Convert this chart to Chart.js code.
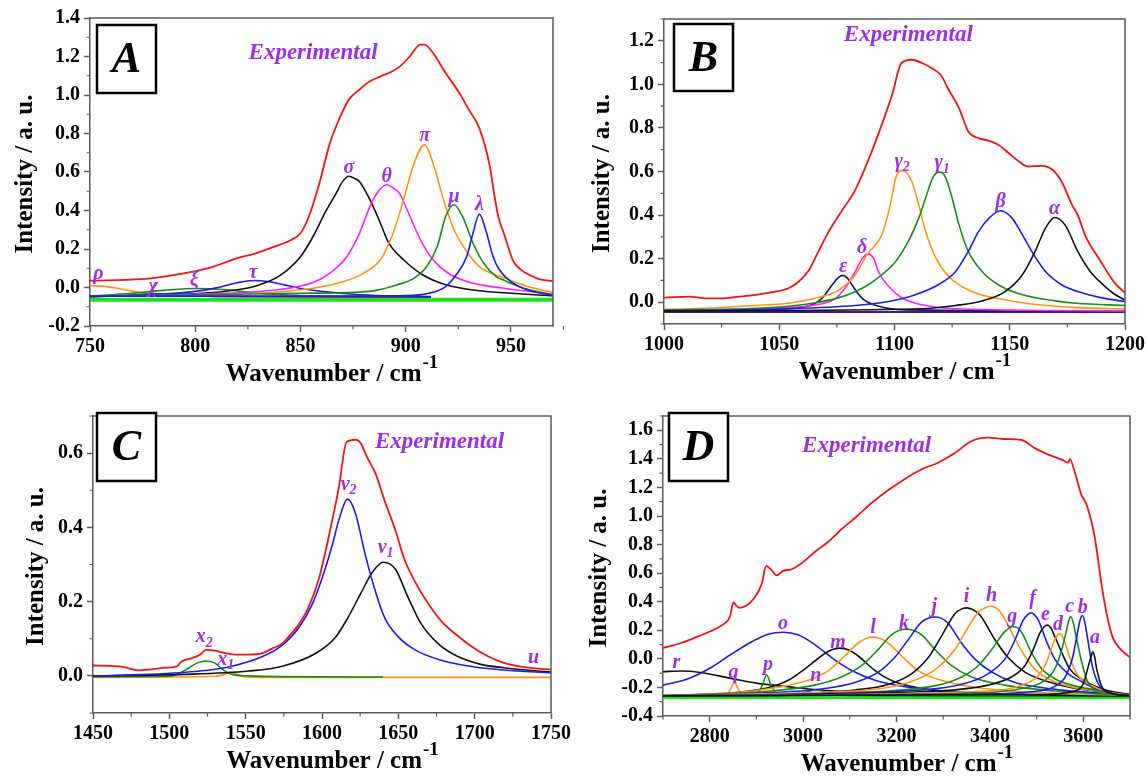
<!DOCTYPE html>
<html>
<head>
<meta charset="utf-8">
<title>Band deconvolution of four spectral regions</title>
<script src="https://cdn.jsdelivr.net/npm/chart.js@4.4.1/dist/chart.umd.min.js"></script>
<style>
  html, body { margin: 0; padding: 0; background: #fff; }
  body { width: 1148px; height: 777px; position: relative; overflow: hidden; }
  canvas { position: absolute; }
</style>
</head>
<body>
<canvas id="pA" width="574" height="400" style="left:0;top:0"></canvas>
<canvas id="pB" width="574" height="400" style="left:574px;top:0"></canvas>
<canvas id="pC" width="574" height="377" style="left:0;top:400px"></canvas>
<canvas id="pD" width="574" height="377" style="left:574px;top:400px"></canvas>
<script>
// ---------- Panel A : 750–970 cm-1 ----------
const aXTicks = [750, 800, 850, 900, 950];
const aYTicks = [-0.2, 0.0, 0.2, 0.4, 0.6, 0.8, 1.0, 1.2, 1.4];
const aExpX = [750, 774, 785, 799, 808, 820, 828, 837, 845, 850, 854, 859, 864, 869, 873, 878, 883, 888, 892, 897, 902, 907, 909, 913, 919, 926, 930, 935, 940, 942, 944, 947, 951, 955, 958, 963, 970];
const aExpY = [0.036, 0.043, 0.057, 0.083, 0.106, 0.153, 0.175, 0.21, 0.244, 0.282, 0.369, 0.542, 0.75, 0.889, 0.976, 1.028, 1.071, 1.097, 1.114, 1.146, 1.201, 1.262, 1.262, 1.218, 1.114, 1.002, 0.924, 0.828, 0.629, 0.49, 0.369, 0.27, 0.14, 0.09, 0.07, 0.045, 0.033];
const aSigmaX = [750, 780, 800, 820, 830, 840, 850, 856, 862, 867, 870, 873, 876, 878, 883, 888, 892, 899, 908, 919, 935, 950, 970];
const aSigmaY = [-0.047, -0.04, -0.033, -0.012, 0.012, 0.06, 0.16, 0.265, 0.395, 0.49, 0.55, 0.578, 0.565, 0.551, 0.456, 0.334, 0.23, 0.144, 0.066, 0.014, -0.017, -0.03, -0.043];
const aThetaX = [750, 800, 840, 856, 865, 872, 878, 883, 887, 891, 895, 897, 902, 907, 913, 919, 929, 946, 970];
const aThetaY = [-0.045, -0.035, -0.01, 0.026, 0.083, 0.16, 0.28, 0.42, 0.5, 0.534, 0.51, 0.49, 0.37, 0.248, 0.144, 0.083, 0.031, -0.003, -0.035];
const aPiX = [750, 800, 820, 856, 872, 880, 888, 894, 899, 904, 909, 913, 918, 923, 929, 935, 947, 958, 970];
const aPiY = [-0.045, -0.042, -0.035, -0.004, 0.036, 0.075, 0.144, 0.282, 0.456, 0.646, 0.742, 0.646, 0.456, 0.3, 0.187, 0.109, 0.049, 0.005, -0.026];
const aMuX = [750, 850, 883, 896, 904, 910, 915, 919, 923, 927, 932, 937, 943, 947, 955, 962, 970];
const aMuY = [-0.045, -0.03, -0.02, 0.014, 0.049, 0.109, 0.213, 0.369, 0.43, 0.369, 0.23, 0.127, 0.057, 0.036, 0.0, -0.02, -0.04];
const aLambdaX = [750, 850, 900, 911, 919, 924, 929, 932, 935, 938, 941.5, 944.5, 950, 955, 960, 970];
const aLambdaY = [-0.045, -0.045, -0.042, -0.03, 0.005, 0.066, 0.161, 0.283, 0.381, 0.3, 0.161, 0.092, 0.03, 0.0, -0.02, -0.04];
const aTauX = [750, 770, 790, 800, 810, 820, 828, 835, 842, 850, 860, 875, 890, 912];
const aTauY = [-0.045, -0.04, -0.03, -0.02, -0.002, 0.025, 0.036, 0.03, 0.015, -0.005, -0.02, -0.035, -0.043, -0.047];
const aXiX = [750, 770, 785, 800, 815, 830, 850, 880, 912];
const aXiY = [-0.045, -0.03, -0.015, -0.005, -0.012, -0.03, -0.042, -0.046, -0.048];
const aChiX = [750, 770, 781, 792, 810, 860, 912];
const aChiY = [-0.048, -0.04, -0.033, -0.04, -0.046, -0.048, -0.05];
const aRhoX = [750, 757, 765, 775, 790, 820, 860, 912];
const aRhoY = [0.009, 0.006, -0.008, -0.028, -0.04, -0.047, -0.05, -0.052];
const aBaseX = [750, 970];
const aBaseY = [-0.063, -0.063];

// ---------- Panel B : 1000–1200 cm-1 ----------
const bXTicks = [1000, 1050, 1100, 1150, 1200];
const bYTicks = [0.0, 0.2, 0.4, 0.6, 0.8, 1.0, 1.2];
const bExpX = [1000, 1011, 1018, 1025, 1032, 1040, 1047, 1054, 1058.5, 1063, 1067, 1071.5, 1077, 1083, 1089, 1095, 1099, 1103, 1107.5, 1112, 1116, 1120, 1123.5, 1128, 1132, 1136.5, 1141, 1145, 1149.5, 1154, 1158, 1164, 1168.5, 1172.5, 1177, 1179.5, 1183, 1189, 1195.5, 1200];
const bExpY = [0.021, 0.026, 0.018, 0.018, 0.025, 0.034, 0.046, 0.064, 0.095, 0.149, 0.233, 0.325, 0.417, 0.516, 0.662, 0.83, 0.953, 1.098, 1.113, 1.098, 1.075, 1.044, 0.975, 0.891, 0.784, 0.753, 0.741, 0.723, 0.685, 0.646, 0.623, 0.626, 0.608, 0.554, 0.447, 0.40, 0.30, 0.195, 0.089, 0.043];
const bGamma2X = [1000, 1011, 1040, 1054, 1068.5, 1076, 1083, 1088, 1094.5, 1097.5, 1099, 1100.5, 1103.5, 1107.5, 1110.5, 1113.5, 1118, 1123.5, 1133.5, 1148, 1162.5, 1179, 1200];
const bGamma2Y = [-0.033, -0.03, -0.015, -0.005, 0.026, 0.057, 0.126, 0.217, 0.309, 0.417, 0.49, 0.57, 0.605, 0.554, 0.447, 0.325, 0.202, 0.118, 0.049, 0.011, -0.012, -0.025, -0.03];
const bGamma1X = [1000, 1040, 1061.5, 1076, 1086, 1094.5, 1100.5, 1106, 1110.5, 1113.5, 1116.5, 1119.5, 1122, 1125, 1128, 1132, 1138, 1145, 1155.5, 1170, 1179, 1200];
const bGamma1Y = [-0.035, -0.028, -0.009, 0.021, 0.064, 0.126, 0.187, 0.279, 0.386, 0.478, 0.57, 0.597, 0.577, 0.478, 0.355, 0.233, 0.141, 0.08, 0.034, 0.006, -0.005, -0.015];
const bBetaX = [1000, 1054, 1083, 1097.5, 1109, 1119, 1126.5, 1132, 1136.5, 1141, 1146, 1151, 1155.5, 1160, 1165.5, 1172.5, 1179.5, 1190, 1200];
const bBetaY = [-0.04, -0.03, -0.015, 0.003, 0.034, 0.08, 0.141, 0.233, 0.325, 0.386, 0.42, 0.386, 0.309, 0.225, 0.141, 0.08, 0.049, 0.02, 0.003];
const bAlphaX = [1000, 1112, 1126.5, 1138, 1148, 1155.5, 1161, 1165.5, 1169.5, 1174, 1179.5, 1185, 1190, 1195, 1200];
const bAlphaY = [-0.04, -0.03, -0.015, 0.006, 0.049, 0.126, 0.233, 0.34, 0.389, 0.355, 0.233, 0.14, 0.085, 0.04, 0.01];
const bDeltaX = [1000, 1047, 1066, 1074.5, 1078.5, 1083, 1086, 1088.5, 1091, 1093, 1097.5, 1103.5, 1112, 1126.5, 1200];
const bDeltaY = [-0.038, -0.028, -0.012, 0.018, 0.064, 0.141, 0.2, 0.222, 0.2, 0.141, 0.072, 0.018, -0.012, -0.03, -0.04];
const bEpsX = [1000, 1040, 1061.5, 1068.5, 1073, 1075.5, 1077.5, 1079.5, 1081.5, 1086, 1092, 1105, 1200];
const bEpsY = [-0.04, -0.035, -0.02, 0.018, 0.08, 0.112, 0.123, 0.112, 0.08, 0.018, -0.015, -0.035, -0.042];
const bBaseX = [1000, 1200];
const bBaseY = [-0.045, -0.045];

// ---------- Panel C : 1450–1750 cm-1 ----------
const cXTicks = [1450, 1500, 1550, 1600, 1650, 1700, 1750];
const cYTicks = [0.0, 0.2, 0.4, 0.6];
const cExpX = [1450, 1465, 1472, 1479, 1487, 1498, 1505, 1508, 1515, 1520, 1524, 1530, 1537, 1543.5, 1552, 1561, 1567.5, 1574, 1578, 1585, 1591, 1598, 1604, 1611, 1616, 1622, 1625, 1630, 1635, 1641, 1648, 1654, 1661, 1670, 1678, 1687, 1698, 1709, 1719, 1735, 1750];
const cExpY = [0.028, 0.026, 0.022, 0.015, 0.017, 0.022, 0.026, 0.039, 0.048, 0.057, 0.07, 0.068, 0.061, 0.057, 0.057, 0.061, 0.074, 0.087, 0.105, 0.14, 0.183, 0.262, 0.367, 0.507, 0.629, 0.636, 0.629, 0.585, 0.546, 0.472, 0.393, 0.314, 0.253, 0.192, 0.148, 0.114, 0.079, 0.052, 0.035, 0.022, 0.017];
const cNu2X = [1450, 1487, 1520, 1541, 1561, 1574, 1585, 1593.5, 1600, 1606.5, 1611, 1616.7, 1622, 1628, 1635, 1641, 1650, 1661, 1678, 1700, 1719, 1750];
const cNu2Y = [0.0, 0.004, 0.013, 0.026, 0.052, 0.083, 0.131, 0.192, 0.262, 0.349, 0.419, 0.476, 0.437, 0.332, 0.227, 0.157, 0.105, 0.07, 0.042, 0.024, 0.016, 0.008];
const cNu1X = [1450, 1509, 1552, 1574, 1596, 1609, 1617, 1626, 1633, 1640, 1648, 1656.5, 1665, 1676, 1689, 1704, 1719, 1750];
const cNu1Y = [0.0, 0.004, 0.013, 0.026, 0.061, 0.105, 0.157, 0.227, 0.279, 0.306, 0.288, 0.21, 0.14, 0.087, 0.052, 0.031, 0.022, 0.01];
const cX2X = [1450, 1500, 1506.5, 1513, 1518.5, 1524, 1529.5, 1535, 1541, 1552, 1572, 1640];
const cX2Y = [-0.002, -0.001, 0.007, 0.022, 0.035, 0.04, 0.035, 0.017, 0.004, 0.0, -0.002, -0.003];
const cX1X = [1450, 1530, 1536, 1540, 1545, 1550, 1560, 1750];
const cX1Y = [-0.004, -0.001, 0.004, 0.009, 0.003, -0.003, -0.004, -0.004];

// ---------- Panel D : 2700–3700 cm-1 ----------
const dXTicks = [2800, 3000, 3200, 3400, 3600];
const dYTicks = [-0.4, -0.2, 0.0, 0.2, 0.4, 0.6, 0.8, 1.0, 1.2, 1.4, 1.6];
const dExpX = [2700, 2739, 2775, 2811, 2832, 2843, 2851, 2857, 2864, 2879, 2896, 2911, 2921, 2932, 2943, 2957, 2975, 2996, 3025, 3054, 3082, 3111, 3146, 3182, 3218, 3254, 3289, 3325, 3361, 3396, 3432, 3468, 3496, 3525, 3554, 3568, 3571, 3582, 3595, 3608, 3624, 3640, 3651, 3663, 3679, 3700];
const dExpY = [0.077, 0.111, 0.157, 0.207, 0.248, 0.293, 0.395, 0.373, 0.357, 0.373, 0.43, 0.52, 0.65, 0.623, 0.584, 0.616, 0.627, 0.668, 0.748, 0.82, 0.907, 0.986, 1.089, 1.18, 1.259, 1.327, 1.373, 1.441, 1.525, 1.548, 1.539, 1.532, 1.475, 1.43, 1.395, 1.373, 1.40, 1.305, 1.157, 1.07, 0.86, 0.5, 0.3, 0.15, 0.07, 0.01];
const dRX = [2700, 2740, 2780, 2850, 2900, 2970, 3050, 3150, 3300, 3500, 3700];
const dRY = [-0.09, -0.085, -0.095, -0.14, -0.17, -0.196, -0.222, -0.238, -0.25, -0.258, -0.262];
const dOX = [2700, 2754, 2804, 2846, 2889, 2925, 2958, 2989, 3025, 3061, 3104, 3154, 3218, 3325, 3500, 3700];
const dOY = [-0.184, -0.139, -0.059, 0.032, 0.118, 0.173, 0.186, 0.168, 0.1, 0.009, -0.082, -0.15, -0.195, -0.23, -0.25, -0.26];
const dMX = [2700, 2861, 2925, 2968, 3004, 3039, 3060, 3079, 3098, 3118, 3154, 3196, 3254, 3325, 3700];
const dMY = [-0.26, -0.234, -0.202, -0.15, -0.07, 0.02, 0.062, 0.075, 0.062, 0.02, -0.082, -0.161, -0.207, -0.234, -0.26];
const dNX = [2700, 2950, 3000, 3015, 3028, 3040, 3055, 3100, 3700];
const dNY = [-0.262, -0.258, -0.24, -0.225, -0.215, -0.225, -0.242, -0.258, -0.262];
const dLX = [2700, 2861, 2954, 3011, 3054, 3089, 3118, 3135, 3150, 3165, 3182, 3211, 3246, 3296, 3361, 3468, 3700];
const dLY = [-0.258, -0.234, -0.195, -0.15, -0.082, 0.02, 0.111, 0.142, 0.152, 0.142, 0.111, 0.02, -0.082, -0.15, -0.195, -0.23, -0.255];
const dKX = [2700, 2932, 3025, 3082, 3125, 3161, 3189, 3205, 3221, 3237, 3254, 3282, 3318, 3361, 3432, 3539, 3700];
const dKY = [-0.258, -0.225, -0.184, -0.127, -0.048, 0.066, 0.168, 0.198, 0.207, 0.198, 0.168, 0.066, -0.048, -0.127, -0.184, -0.225, -0.255];
const dJX = [2700, 2896, 3039, 3111, 3161, 3196, 3225, 3254, 3268, 3281, 3295, 3311, 3339, 3368, 3404, 3454, 3525, 3700];
const dJY = [-0.255, -0.241, -0.211, -0.166, -0.093, 0.009, 0.134, 0.259, 0.285, 0.293, 0.285, 0.248, 0.111, -0.002, -0.093, -0.166, -0.207, -0.255];
const dIX = [2700, 2968, 3111, 3182, 3232, 3268, 3296, 3325, 3340, 3351, 3363, 3379, 3411, 3439, 3475, 3525, 3575, 3700];
const dIY = [-0.258, -0.248, -0.218, -0.18, -0.105, 0.009, 0.157, 0.316, 0.35, 0.357, 0.345, 0.305, 0.134, 0.009, -0.093, -0.161, -0.202, -0.25];
const dHX = [2700, 3039, 3168, 3239, 3289, 3325, 3354, 3375, 3390, 3402, 3414, 3425, 3446, 3468, 3496, 3532, 3582, 3700];
const dHY = [-0.255, -0.234, -0.207, -0.15, -0.059, 0.066, 0.225, 0.327, 0.358, 0.368, 0.355, 0.316, 0.191, 0.055, -0.07, -0.15, -0.202, -0.25];
const dGX = [2700, 3182, 3289, 3339, 3375, 3404, 3429, 3441, 3451, 3462, 3471, 3489, 3511, 3539, 3575, 3700];
const dGY = [-0.258, -0.225, -0.184, -0.127, -0.048, 0.066, 0.18, 0.215, 0.225, 0.212, 0.168, 0.043, -0.07, -0.139, -0.184, -0.255];
const dFX = [2700, 3254, 3346, 3396, 3432, 3454, 3471, 3481, 3488, 3495, 3504, 3521, 3539, 3568, 3595, 3620, 3650, 3700];
const dFY = [-0.258, -0.218, -0.173, -0.105, -0.002, 0.134, 0.27, 0.31, 0.323, 0.31, 0.27, 0.123, -0.002, -0.105, -0.157, -0.2, -0.23, -0.255];
const dEX = [2700, 3289, 3396, 3446, 3475, 3493, 3507, 3516, 3523, 3530, 3539, 3554, 3571, 3595, 3620, 3650, 3700];
const dEY = [-0.258, -0.225, -0.184, -0.127, -0.048, 0.066, 0.18, 0.225, 0.236, 0.22, 0.157, 0.043, -0.07, -0.139, -0.185, -0.22, -0.25];
const dDX = [2700, 3396, 3468, 3504, 3521, 3536, 3543, 3549, 3555, 3561, 3575, 3589, 3620, 3650, 3700];
const dDY = [-0.258, -0.225, -0.184, -0.116, -0.025, 0.111, 0.158, 0.175, 0.158, 0.111, -0.025, -0.116, -0.19, -0.23, -0.255];
const dCX = [2700, 3300, 3468, 3518, 3539, 3554, 3564, 3569, 3573, 3578, 3584, 3596, 3608, 3624, 3650, 3700];
const dCY = [-0.258, -0.245, -0.207, -0.15, -0.07, 0.066, 0.2, 0.27, 0.295, 0.26, 0.167, -0.015, -0.15, -0.22, -0.245, -0.258];
const dBX = [2700, 3300, 3490, 3537, 3561, 3577, 3588, 3593, 3598, 3603, 3608, 3620, 3636, 3660, 3700];
const dBY = [-0.258, -0.25, -0.23, -0.196, -0.128, 0.008, 0.19, 0.27, 0.303, 0.26, 0.167, -0.06, -0.196, -0.24, -0.258];
const dAX = [2700, 3500, 3584, 3600, 3612, 3617, 3620, 3624, 3628, 3640, 3660, 3700];
const dAY = [-0.26, -0.25, -0.223, -0.173, -0.037, 0.02, 0.049, 0.02, -0.06, -0.196, -0.24, -0.258];
const dQX = [2700, 2835, 2845, 2853, 2861, 2870, 3700];
const dQY = [-0.26, -0.25, -0.21, -0.165, -0.21, -0.25, -0.26];
const dPX = [2700, 2900, 2912, 2922, 2932, 2945, 3700];
const dPY = [-0.262, -0.245, -0.19, -0.113, -0.19, -0.245, -0.262];
const dBaseX = [2700, 3700];
const dBaseY = [-0.272, -0.272];

// ---------- styling ----------
const SERIF = "'Liberation Serif', 'Times New Roman', serif";
const RED = '#ee1515', BLACK = '#111111', MAGENTA = '#ff1fff', ORANGE = '#ff9418',
      GREEN = '#1b8a1b', BLUE = '#1c1ce8', NAVY = '#14146e', LIME = '#1fe01f',
      INDIGO = '#3a1d8a', PURPLE = '#9a30e2', AXIS = '#5a5a5a';

function curve(xs, ys, color, width) {
  return {
    data: xs.map((x, i) => ({ x: x, y: ys[i] })),
    borderColor: color,
    borderWidth: width || 1.6,
    pointRadius: 0,
    fill: false,
    cubicInterpolationMode: 'monotone'
  };
}

// text helper: main glyph with optional subscript, centred on (x, y)
function drawTag(ctx, text, sub, x, y, size) {
  ctx.save();
  ctx.fillStyle = PURPLE;
  ctx.textBaseline = 'middle';
  ctx.textAlign = 'left';
  ctx.font = 'italic bold ' + size + 'px ' + SERIF;
  const w1 = ctx.measureText(text).width;
  let w2 = 0;
  const subSize = Math.round(size * 0.7);
  if (sub) {
    ctx.font = 'italic bold ' + subSize + 'px ' + SERIF;
    w2 = ctx.measureText(sub).width;
  }
  const x0 = x - (w1 + w2) / 2;
  ctx.font = 'italic bold ' + size + 'px ' + SERIF;
  ctx.fillText(text, x0, y);
  if (sub) {
    ctx.font = 'italic bold ' + subSize + 'px ' + SERIF;
    ctx.fillText(sub, x0 + w1, y + size * 0.3);
  }
  ctx.restore();
}

const decorPlugin = {
  id: 'decor',
  afterDraw(chart, args, o) {
    const ctx = chart.ctx;
    const ca = chart.chartArea;
    const xs = chart.scales.x, ys = chart.scales.y;
    ctx.save();
    // frame: top and right edges
    ctx.strokeStyle = AXIS;
    ctx.lineWidth = 1.5;
    ctx.beginPath();
    ctx.moveTo(ca.left, ca.top); ctx.lineTo(ca.right, ca.top); ctx.lineTo(ca.right, ca.bottom);
    ctx.stroke();
    // minor ticks
    ctx.lineWidth = 1.2;
    ctx.beginPath();
    const nx = Math.round((o.xMax - o.xMinorStart) / o.xMinor);
    for (let k = 0; k <= nx; k++) {
      const v = o.xMinorStart + k * o.xMinor;
      if (o.xTicks.some(t => Math.abs(t - v) < 1e-6)) continue;
      const px = xs.getPixelForValue(v);
      ctx.moveTo(px, ca.bottom); ctx.lineTo(px, ca.bottom + 3.5);
    }
    const ny = Math.round((o.yMax - o.yMin) / o.yMinor);
    for (let k = 0; k <= ny; k++) {
      const v = o.yMin + k * o.yMinor;
      if (o.yTicks.some(t => Math.abs(t - v) < 1e-6)) continue;
      const py = ys.getPixelForValue(v);
      ctx.moveTo(ca.left, py); ctx.lineTo(ca.left - 3.5, py);
    }
    ctx.stroke();
    // axis titles
    ctx.fillStyle = '#000';
    ctx.textBaseline = 'alphabetic';
    ctx.textAlign = 'left';
    ctx.font = 'bold 25px ' + SERIF;
    const main = 'Wavenumber / cm';
    const wMain = ctx.measureText(main).width;
    ctx.font = 'bold 19px ' + SERIF;
    const wSup = ctx.measureText('-1').width;
    const tx = (ca.left + ca.right) / 2 + 10 - (wMain + wSup) / 2;
    const ty = ca.bottom + 55;
    ctx.font = 'bold 25px ' + SERIF;
    ctx.fillText(main, tx, ty);
    ctx.font = 'bold 19px ' + SERIF;
    ctx.fillText('-1', tx + wMain + 1, ty - 13);
    ctx.save();
    ctx.translate(o.yTitleX, (ca.top + ca.bottom) / 2 + 2);
    ctx.rotate(-Math.PI / 2);
    ctx.textAlign = 'center';
    ctx.textBaseline = 'middle';
    ctx.font = 'bold 25px ' + SERIF;
    ctx.fillText('Intensity / a. u.', 0, 0);
    ctx.restore();
    // panel letter box
    const b = o.box;
    ctx.strokeStyle = '#000';
    ctx.lineWidth = 2.5;
    ctx.fillStyle = '#fff';
    ctx.fillRect(b[0], b[1], b[2], b[3]);
    ctx.strokeRect(b[0], b[1], b[2], b[3]);
    ctx.fillStyle = '#000';
    ctx.textAlign = 'center';
    ctx.textBaseline = 'middle';
    ctx.font = 'italic bold 44px ' + SERIF;
    ctx.fillText(o.letter, b[0] + b[2] / 2, b[1] + b[3] / 2 + 2);
    // band tags
    o.tags.forEach(t => {
      drawTag(ctx, t.t, t.s, xs.getPixelForValue(t.x), ys.getPixelForValue(t.y), t.big ? 23 : 20);
    });
    ctx.restore();
  }
};

function panel(id, cfg) {
  const cv = document.getElementById(id);
  const W = cv.width, H = cv.height, a = cfg.area;
  const tickFont = { family: SERIF, size: 20, weight: 'bold' };
  return new Chart(cv.getContext('2d'), {
    type: 'line',
    data: { datasets: cfg.datasets },
    options: {
      responsive: false,
      animation: false,
      devicePixelRatio: 1,
      events: [],
      layout: { padding: { left: 0, top: a.top, right: W - a.right, bottom: 0 } },
      plugins: { legend: { display: false }, tooltip: { enabled: false }, decor: cfg.decor },
      scales: {
        x: {
          type: 'linear', min: cfg.xMin, max: cfg.xMax,
          afterBuildTicks: s => { s.ticks = cfg.decor.xTicks.map(v => ({ value: v })); },
          afterFit: s => { s.height = H - a.bottom; },
          ticks: { font: tickFont, color: '#000', padding: 3, maxRotation: 0, autoSkip: false,
                   callback: v => String(v) },
          grid: { drawOnChartArea: false, tickLength: 6, tickWidth: 1.5, tickColor: AXIS },
          border: { display: true, color: AXIS, width: 1.5 }
        },
        y: {
          type: 'linear', min: cfg.decor.yMin, max: cfg.decor.yMax,
          afterBuildTicks: s => { s.ticks = cfg.decor.yTicks.map(v => ({ value: v })); },
          afterFit: s => { s.width = a.left; },
          ticks: { font: tickFont, color: '#000', padding: 4, autoSkip: false,
                   callback: v => v.toFixed(1) },
          grid: { drawOnChartArea: false, tickLength: 6, tickWidth: 1.5, tickColor: AXIS },
          border: { display: true, color: AXIS, width: 1.5 }
        }
      }
    },
    plugins: [decorPlugin]
  });
}

// Panel A
panel('pA', {
  area: { left: 90, right: 553, top: 18, bottom: 326 },
  xMin: 750, xMax: 970,
  datasets: [
    curve(aExpX, aExpY, RED, 1.8),
    curve(aLambdaX, aLambdaY, BLUE),
    curve(aMuX, aMuY, GREEN),
    curve(aPiX, aPiY, ORANGE),
    curve(aThetaX, aThetaY, MAGENTA),
    curve(aSigmaX, aSigmaY, BLACK),
    curve(aTauX, aTauY, BLUE),
    curve(aXiX, aXiY, GREEN),
    curve(aChiX, aChiY, NAVY),
    curve(aRhoX, aRhoY, ORANGE),
    curve(aBaseX, aBaseY, LIME, 4)
  ],
  decor: {
    xTicks: aXTicks, yTicks: aYTicks, xMinorStart: 750, xMinor: 25, xMax: 970,
    yMin: -0.2, yMax: 1.4, yMinor: 0.1, yTitleX: 26,
    box: [97, 25, 59, 68], letter: 'A',
    tags: [
      { t: 'Experimental', x: 856, y: 1.218, big: true },
      { t: 'ρ', x: 754, y: 0.071 }, { t: 'χ', x: 780, y: 0.005 }, { t: 'ξ', x: 799.5, y: 0.035 },
      { t: 'τ', x: 827.5, y: 0.075 }, { t: 'σ', x: 873, y: 0.62 }, { t: 'θ', x: 891, y: 0.577 },
      { t: 'π', x: 909, y: 0.789 }, { t: 'μ', x: 923, y: 0.473 }, { t: 'λ', x: 935, y: 0.43 }
    ]
  }
});

// Panel B
panel('pB', {
  area: { left: 90, right: 552, top: 19, bottom: 324 },
  xMin: 1000, xMax: 1200,
  datasets: [
    curve(bExpX, bExpY, RED, 1.8),
    curve(bAlphaX, bAlphaY, BLACK),
    curve(bBetaX, bBetaY, BLUE),
    curve(bGamma1X, bGamma1Y, GREEN),
    curve(bGamma2X, bGamma2Y, ORANGE),
    curve(bDeltaX, bDeltaY, MAGENTA),
    curve(bEpsX, bEpsY, NAVY),
    curve(bBaseX, bBaseY, INDIGO, 2)
  ],
  decor: {
    xTicks: bXTicks, yTicks: bYTicks, xMinorStart: 1000, xMinor: 25, xMax: 1200,
    yMin: -0.1, yMax: 1.3, yMinor: 0.1, yTitleX: 29,
    box: [100, 24, 59, 67], letter: 'B',
    tags: [
      { t: 'Experimental', x: 1106, y: 1.228, big: true },
      { t: 'ε', x: 1077.7, y: 0.164 }, { t: 'δ', x: 1086, y: 0.248 },
      { t: 'γ', s: '2', x: 1103.3, y: 0.646 }, { t: 'γ', s: '1', x: 1120.7, y: 0.639 },
      { t: 'β', x: 1146, y: 0.462 }, { t: 'α', x: 1169.4, y: 0.427 }
    ]
  }
});

// Panel C
panel('pC', {
  area: { left: 93, right: 553, top: 8, bottom: 313 },
  xMin: 1450, xMax: 1750,
  datasets: [
    curve(cExpX, cExpY, RED, 1.8),
    curve(cNu2X, cNu2Y, BLUE),
    curve(cNu1X, cNu1Y, BLACK),
    curve(cX2X, cX2Y, GREEN),
    curve(cX1X, cX1Y, ORANGE)
  ],
  decor: {
    xTicks: cXTicks, yTicks: cYTicks, xMinorStart: 1450, xMinor: 25, xMax: 1750,
    yMin: -0.1, yMax: 0.7, yMinor: 0.1, yTitleX: 37,
    box: [97, 13, 59, 68], letter: 'C',
    tags: [
      { t: 'Experimental', x: 1677, y: 0.629, big: true },
      { t: 'x', s: '2', x: 1522.8, y: 0.105 }, { t: 'x', s: '1', x: 1537, y: 0.044 },
      { t: 'v', s: '2', x: 1617.4, y: 0.515 }, { t: 'v', s: '1', x: 1641.7, y: 0.345 },
      { t: 'u', x: 1738.6, y: 0.048 }
    ]
  }
});

// Panel D
panel('pD', {
  area: { left: 89, right: 556, top: 8, bottom: 316 },
  xMin: 2700, xMax: 3700,
  datasets: [
    curve(dExpX, dExpY, RED, 1.8),
    curve(dAX, dAY, BLACK),
    curve(dBX, dBY, BLUE),
    curve(dCX, dCY, GREEN),
    curve(dDX, dDY, ORANGE),
    curve(dEX, dEY, BLACK),
    curve(dFX, dFY, BLUE),
    curve(dGX, dGY, GREEN),
    curve(dHX, dHY, ORANGE),
    curve(dIX, dIY, BLACK),
    curve(dJX, dJY, BLUE),
    curve(dKX, dKY, GREEN),
    curve(dLX, dLY, ORANGE),
    curve(dMX, dMY, BLACK),
    curve(dNX, dNY, GREEN),
    curve(dOX, dOY, BLUE),
    curve(dPX, dPY, GREEN),
    curve(dQX, dQY, ORANGE),
    curve(dRX, dRY, BLACK),
    curve(dBaseX, dBaseY, LIME, 3)
  ],
  decor: {
    xTicks: dXTicks, yTicks: dYTicks, xMinorStart: 2700, xMinor: 100, xMax: 3700,
    yMin: -0.4, yMax: 1.7, yMinor: 0.1, yTitleX: 26,
    box: [95, 13, 59, 68], letter: 'D',
    tags: [
      { t: 'Experimental', x: 3136, y: 1.49, big: true },
      { t: 'r', x: 2728.6, y: -0.025 }, { t: 'q', x: 2851, y: -0.1 }, { t: 'p', x: 2925, y: -0.043 },
      { t: 'o', x: 2957, y: 0.248 }, { t: 'n', x: 3027, y: -0.116 }, { t: 'm', x: 3075, y: 0.111 },
      { t: 'l', x: 3150, y: 0.214 }, { t: 'k', x: 3216, y: 0.248 }, { t: 'j', x: 3281, y: 0.361 },
      { t: 'i', x: 3350, y: 0.436 }, { t: 'h', x: 3403.6, y: 0.44 }, { t: 'g', x: 3448, y: 0.293 },
      { t: 'f', x: 3491.4, y: 0.418 }, { t: 'e', x: 3519, y: 0.305 }, { t: 'd', x: 3546, y: 0.241 },
      { t: 'c', x: 3571, y: 0.361 }, { t: 'b', x: 3598.6, y: 0.355 }, { t: 'a', x: 3625, y: 0.144 }
    ]
  }
});
</script>
</body>
</html>
